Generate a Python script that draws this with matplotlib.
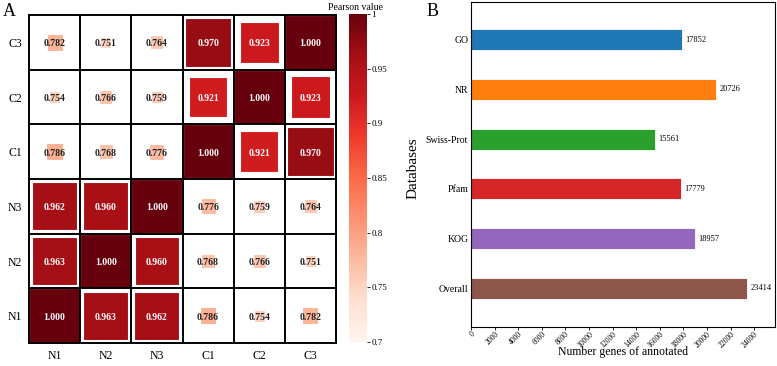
import numpy as np
import matplotlib
matplotlib.use("Agg")
import matplotlib.pyplot as plt
from matplotlib.patches import Rectangle
from matplotlib import cm, colors

plt.rcParams['font.family'] = 'serif'
plt.rcParams['font.serif'] = ['Liberation Serif', 'DejaVu Serif']

# --- data ---
samples = ['N1', 'N2', 'N3', 'C1', 'C2', 'C3']
# rows bottom -> top (N1 ... C3), columns N1 ... C3
pearson = np.array([
    [1.000, 0.963, 0.962, 0.786, 0.754, 0.782],
    [0.963, 1.000, 0.960, 0.768, 0.766, 0.751],
    [0.962, 0.960, 1.000, 0.776, 0.759, 0.764],
    [0.786, 0.768, 0.776, 1.000, 0.921, 0.970],
    [0.754, 0.766, 0.759, 0.921, 1.000, 0.923],
    [0.782, 0.751, 0.764, 0.970, 0.923, 1.000],
])
cbar_ticks = [0.7, 0.75, 0.8, 0.85, 0.9, 0.95, 1.0]
cbar_labels = ['0.7', '0.75', '0.8', '0.85', '0.9', '0.95', '1']

databases = ['Overall', 'KOG', 'Pfam', 'Swiss-Prot', 'NR', 'GO']
counts = [23414, 18957, 17779, 15561, 20726, 17852]
bar_colors = ['#8c564b', '#9467bd', '#d62728', '#2ca02c', '#ff7f0e', '#1f77b4']

W, H = 777, 366
fig = plt.figure(figsize=(W / 100, H / 100), dpi=100)

def box(x0, y0, x1, y1):
    return [x0 / W, 1 - y1 / H, (x1 - x0) / W, (y1 - y0) / H]

# --- A: correlation heatmap ---
ax = fig.add_axes(box(29, 15, 336, 343))
vmin, vmax = 0.7, 1.0
cmap = matplotlib.colormaps['Reds']
norm = colors.Normalize(vmin, vmax)
n = len(samples)
for i in range(n):
    for j in range(n):
        v = pearson[i, j]
        s = 0.05 + 0.95 * (v - vmin) / (vmax - vmin)
        ax.add_patch(Rectangle((j + 0.5 - s / 2, i + 0.5 - s / 2), s, s,
                               facecolor=cmap(norm(v)), edgecolor='white',
                               linewidth=0.8, zorder=1))
        tc = 'white' if v > 0.85 else '#222222'
        ax.text(j + 0.5, i + 0.47, f'{v:.3f}', ha='center', va='center',
                fontsize=7, fontweight='bold', color=tc, zorder=3)
for k in range(1, n):
    ax.axhline(k, color='black', lw=1.4, zorder=2)
    ax.axvline(k, color='black', lw=1.4, zorder=2)
ax.set_xlim(0, n)
ax.set_ylim(0, n)
ax.set_xticks(np.arange(n) + 0.5)
ax.set_xticklabels(samples, fontsize=8.5)
ax.set_yticks(np.arange(n) + 0.5)
ax.set_yticklabels(samples, fontsize=8.5)
ax.tick_params(length=0, pad=5)
for sp in ax.spines.values():
    sp.set_linewidth(1.4)
fig.text(3 / W, 1 - 16 / H, 'A', fontsize=13)

# colorbar
cax = fig.add_axes(box(349, 14, 367, 342))
cb = fig.colorbar(cm.ScalarMappable(norm=norm, cmap=cmap), cax=cax)
cb.set_ticks(cbar_ticks)
cb.set_ticklabels(cbar_labels)
cb.ax.tick_params(labelsize=6.5, length=2, width=0.6, pad=1)
cb.outline.set_visible(False)
fig.text(355 / W, 1 - 7 / H, 'Pearson value', fontsize=7, ha='center', va='center')

# --- B: annotation bar chart ---
bx = fig.add_axes(box(471, 2, 775, 327))
ypos = np.arange(len(databases))
bx.barh(ypos, counts, height=0.42, color=bar_colors, edgecolor='white', linewidth=0.6)
for y, c in zip(ypos, counts):
    bx.text(c + 300, y, str(c), va='center', ha='left', fontsize=6)
bx.set_yticks(ypos)
bx.set_yticklabels(databases, fontsize=7)
bx.set_ylim(-0.78, 5.76)
bx.set_xlim(0, max(counts) * 1.1)
bx.set_xticks(np.arange(0, 24001, 2000))
bx.set_xticklabels([str(t) for t in range(0, 24001, 2000)], rotation=45,
                   fontsize=5.5, ha='right', rotation_mode='anchor')
bx.tick_params(axis='y', length=0, pad=2)
bx.tick_params(axis='x', length=2, width=0.6, pad=0.5)
bx.set_xlabel('Number genes of annotated', fontsize=8.5)
bx.xaxis.set_label_coords(0.5, -0.06)
bx.set_ylabel('Databases', fontsize=11)
bx.yaxis.set_label_coords(-0.168, 0.49)
for sp in bx.spines.values():
    sp.set_linewidth(0.8)
fig.text(427 / W, 1 - 16 / H, 'B', fontsize=13)

fig.savefig('out.png', dpi=100)
